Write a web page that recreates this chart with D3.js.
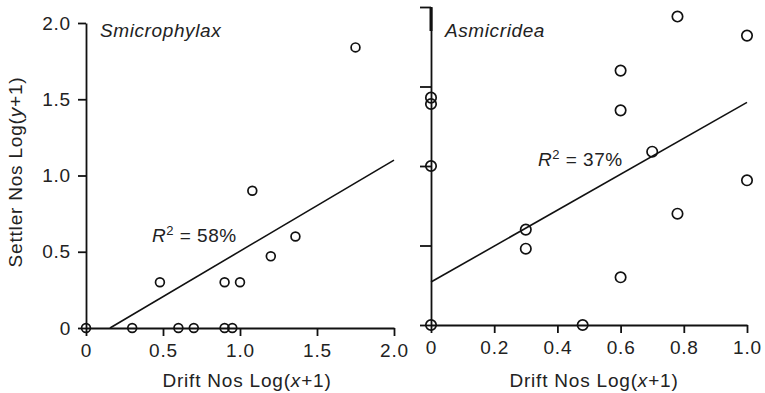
<!DOCTYPE html>
<html>
<head>
<meta charset="utf-8">
<script src="https://cdn.jsdelivr.net/npm/d3@7"></script>
<style>
  body { margin: 0; background: #fff; }
  svg text { font-family: "Liberation Sans", Arial, sans-serif; fill: #222; }
</style>
</head>
<body>
<svg id="chart" width="765" height="393"></svg>
<script>
// Smicrophylax (left panel)
var leftX = [0, 0.30, 0.60, 0.70, 0.90, 0.95, 0.48, 0.90, 1.00, 1.20, 1.36, 1.08, 1.75];
var leftY = [0, 0, 0, 0, 0, 0, 0.30, 0.30, 0.30, 0.47, 0.60, 0.90, 1.84];
var leftFit = { slope: 0.597, intercept: -0.093, xMax: 2.0 };

// Asmicridea (right panel)
var rightX = [0, 0, 0, 0, 0.30, 0.30, 0.48, 0.60, 0.60, 0.60, 0.70, 0.78, 0.78, 1.00, 1.00];
var rightY = [0, 1.00, 1.39, 1.43, 0.60, 0.48, 0, 0.30, 1.35, 1.60, 1.09, 0.70, 1.94, 1.82, 0.91];
var rightFit = { slope: 1.13, intercept: 0.27, xMax: 1.0 };

var leftXTicks = [0, 0.5, 1.0, 1.5, 2.0];
var leftYTicks = [0, 0.5, 1.0, 1.5, 2.0];
var rightXTicks = [0, 0.2, 0.4, 0.6, 0.8, 1.0];
var rightYTicks = [0, 0.5, 1.0, 1.5, 2.0];

var svg = d3.select('#chart');
var fmt = function(d) { return d === 0 ? '0' : d3.format('.1f')(d); };

function panel(opt) {
    var g = svg.append('g');

    var x = d3.scaleLinear().domain(opt.xDomain).range(opt.xRange);
    var y = d3.scaleLinear().domain([0, 2]).range(opt.yRange);

    var xAxis = d3.axisBottom(x)
        .tickValues(opt.xTicks)
        .tickFormat(fmt)
        .tickSize(8)
        .tickSizeOuter(0)
        .tickPadding(8);

    var yAxis = d3.axisLeft(y)
        .tickValues(opt.yTicks)
        .tickSize(opt.yLabels ? 8 : 11)
        .tickSizeOuter(0)
        .tickPadding(7)
        .tickFormat(opt.yLabels ? fmt : '');

    var gx = g.append('g')
        .attr('transform', 'translate(0,' + y(0) + ')')
        .call(xAxis);
    var gy = g.append('g')
        .attr('transform', 'translate(' + x(0) + ',0)')
        .call(yAxis);

    [gx, gy].forEach(function(a) {
        a.selectAll('path, line').attr('stroke', '#111').attr('stroke-width', 1.8);
        a.selectAll('text')
            .style('font-size', '19px')
            .style('letter-spacing', '0.8px')
            .attr('fill', '#222');
    });

    if (opt.thickTop) {
        g.append('line')
            .attr('x1', x(0)).attr('x2', x(0))
            .attr('y1', y(2)).attr('y2', y(2) + 24)
            .attr('stroke', '#111').attr('stroke-width', 3);
    }

    // regression line
    var fit = opt.fit;
    var x0 = Math.max(0, -fit.intercept / fit.slope);
    g.append('line')
        .attr('x1', x(x0)).attr('y1', y(fit.slope * x0 + fit.intercept))
        .attr('x2', x(fit.xMax)).attr('y2', y(fit.slope * fit.xMax + fit.intercept))
        .attr('stroke', '#111')
        .attr('stroke-width', 1.6);

    // points
    g.append('g').selectAll('circle')
        .data(opt.xs.map(function(d, i) { return [d, opt.ys[i]]; }))
        .enter().append('circle')
        .attr('cx', function(d) { return x(d[0]); })
        .attr('cy', function(d) { return y(d[1]); })
        .attr('r', opt.radius)
        .attr('fill', 'none')
        .attr('stroke', '#111')
        .attr('stroke-width', 1.7);

    // species name
    g.append('text')
        .attr('x', opt.titleX).attr('y', 37)
        .style('font-size', '19px')
        .style('font-style', 'italic')
        .style('letter-spacing', '0.6px')
        .text(opt.title);

    // R squared
    var r = g.append('text')
        .attr('x', opt.r2Pos[0]).attr('y', opt.r2Pos[1])
        .style('font-size', '19px')
        .style('letter-spacing', '0.5px');
    r.append('tspan').style('font-style', 'italic').text('R');
    r.append('tspan').attr('dy', -7).style('font-size', '13px').text('2');
    r.append('tspan').attr('dy', 7).text(' = ' + opt.r2 + '%');

    // x title
    var xt = g.append('text')
        .attr('x', opt.xTitleX).attr('y', 387)
        .attr('text-anchor', 'middle')
        .style('font-size', '19px')
        .style('letter-spacing', '0.8px');
    xt.append('tspan').text('Drift Nos Log(');
    xt.append('tspan').style('font-style', 'italic').text('x');
    xt.append('tspan').text('+1)');
}

panel({
    xs: leftX, ys: leftY, fit: leftFit,
    xDomain: [0, 2], xRange: [86, 394], yRange: [328, 23],
    xTicks: leftXTicks, yTicks: leftYTicks, yLabels: true,
    title: 'Smicrophylax', titleX: 100,
    r2: 58, r2Pos: [152, 242],
    xTitleX: 247, radius: 4.4
});

panel({
    xs: rightX, ys: rightY, fit: rightFit,
    xDomain: [0, 1], xRange: [431, 747], yRange: [325, 7],
    xTicks: rightXTicks, yTicks: rightYTicks, yLabels: false, thickTop: true,
    title: 'Asmicridea', titleX: 445,
    r2: 37, r2Pos: [538, 166],
    xTitleX: 594, radius: 5.2
});

// y title
var yt = svg.append('text')
    .attr('transform', 'translate(22,172) rotate(-90)')
    .attr('text-anchor', 'middle')
    .style('font-size', '19px')
    .style('letter-spacing', '0.8px');
yt.append('tspan').text('Settler Nos Log(');
yt.append('tspan').style('font-style', 'italic').text('y');
yt.append('tspan').text('+1)');
</script>
</body>
</html>
